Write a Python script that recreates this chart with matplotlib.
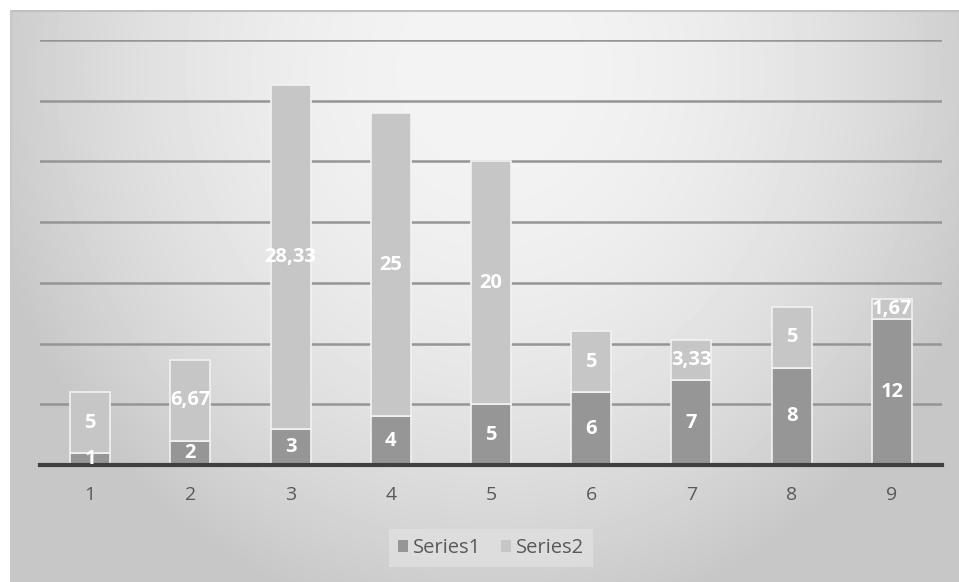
import matplotlib.pyplot as plt
import numpy as np

categories = ['1', '2', '3', '4', '5', '6', '7', '8', '9']
series1 = [1, 2, 3, 4, 5, 6, 7, 8, 12]
series2 = [5, 6.67, 28.33, 25, 20, 5, 3.33, 5, 1.67]

c1 = '#969696'
c2 = '#c6c6c6'

plt.rcParams['font.family'] = ['Open Sans', 'DejaVu Sans']

fig = plt.figure(figsize=(9.59, 5.82), dpi=100)
fig.patch.set_facecolor('white')

# gradient background of the chart area
bg = fig.add_axes([10 / 959, 0, 949 / 959, 572 / 582])
bg.set_axis_off()
yy, xx = np.mgrid[0:572, 0:949]
r2 = ((xx - 480) / 480.0) ** 2 + ((yy - 60) / 520.0) ** 2
shade = np.clip(0.955 - 0.15 * r2, 0.78, 1)
bg.imshow(shade, cmap='gray', vmin=0, vmax=1, aspect='auto', interpolation='bilinear')
bg.plot([0, 948], [0.5, 0.5], color='#c0c0c0', lw=1.5)
bg.plot([0.5, 0.5], [0, 571], color='#c8c8c8', lw=1.5)
bg.set_xlim(-0.5, 948.5)
bg.set_ylim(571.5, -0.5)

ax = fig.add_axes([40 / 959, (582 - 465) / 582, 902 / 959, 425 / 582])
ax.set_facecolor('none')

x = np.arange(1, len(categories) + 1)
b1 = ax.bar(x, series1, width=0.4, color=c1, edgecolor='#f2f2f2', linewidth=1.2, label='Series1', zorder=3)
b2 = ax.bar(x, series2, width=0.4, bottom=series1, color=c2, edgecolor='#f2f2f2', linewidth=1.2, label='Series2', zorder=3)

def fmt(v):
    s = ('%.2f' % v).rstrip('0').rstrip('.')
    return s.replace('.', ',')

for xi, a, b in zip(x, series1, series2):
    ax.text(xi, a / 2, fmt(a), ha='center', va='center', color='white', fontsize=14.5, fontweight='bold', zorder=5)
    ax.text(xi, a + b / 2, fmt(b), ha='center', va='center', color='white', fontsize=14.5, fontweight='bold', zorder=5)

ax.set_xlim(0.5, 9.5)
ax.set_ylim(0, 35)
ax.set_yticks(np.arange(5, 36, 5))
ax.yaxis.grid(True, color='#959595', lw=1.8, zorder=0)
ax.tick_params(axis='y', length=0, labelleft=False)
ax.set_xticks(x)
ax.set_xticklabels(categories, color='#595959', fontsize=14)
ax.tick_params(axis='x', length=0, pad=15)
for s in ['top', 'right', 'left']:
    ax.spines[s].set_visible(False)
ax.spines['bottom'].set_color('#404040')
ax.spines['bottom'].set_linewidth(3)
ax.spines['bottom'].set_zorder(4)

leg = fig.legend(handles=[b1, b2], loc='center', bbox_to_anchor=(491 / 959, 1 - 548 / 582), ncol=2,
                 frameon=True, fontsize=14.5, handlelength=0.5, handleheight=0.5, handletextpad=0.25,
                 columnspacing=1.0, borderpad=0.45, fancybox=False)
leg.get_frame().set_facecolor('#e0e0e0')
leg.get_frame().set_edgecolor('none')
leg.get_frame().set_alpha(0.8)
for t in leg.get_texts():
    t.set_color('#595959')
for h in leg.legend_handles:
    h.set_edgecolor('none')

fig.savefig('out.png', dpi=100)
